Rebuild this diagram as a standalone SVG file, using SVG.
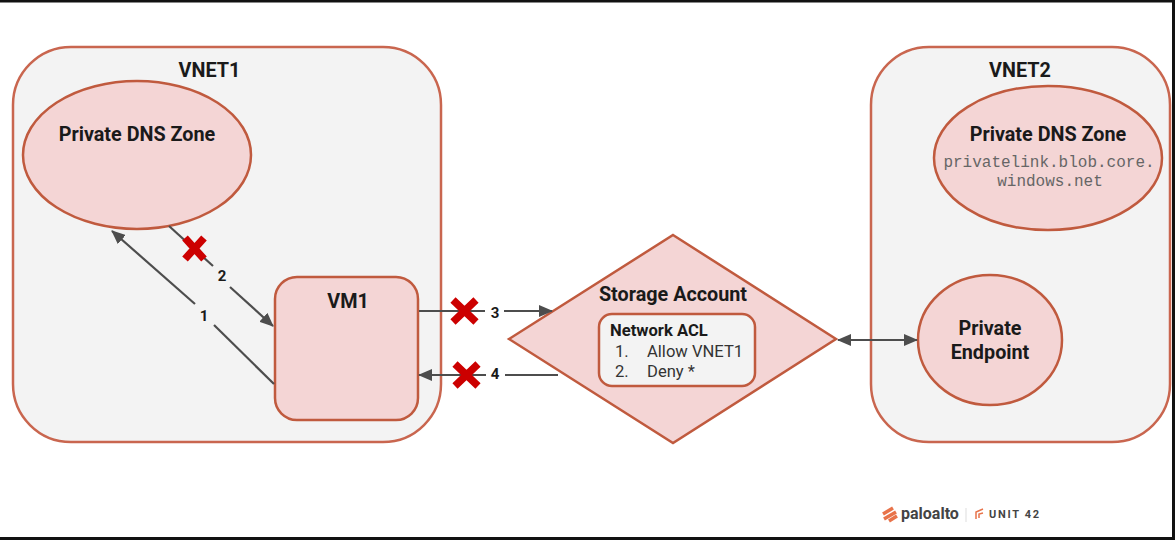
<svg xmlns="http://www.w3.org/2000/svg" width="1175" height="540" viewBox="0 0 1175 540">
<style>
.vnet{fill:#f3f3f3;stroke:#c9664f;stroke-width:2.5}
.node{fill:#f4d5d5;stroke:#c05a3e;stroke-width:2.5}
.inner{fill:#f3f3f3;stroke:#c05a3e;stroke-width:2.5}
.conn{fill:none;stroke:#4d4d4d;stroke-width:2.2}
.x{fill:none;stroke:#cc0000;stroke-width:7.5}
text{font-family:Roboto,"Liberation Sans",sans-serif;fill:#1a1a1a}
.b{font-weight:700;font-size:19.800px;text-anchor:middle}
.n{font-weight:700;font-size:15px;text-anchor:middle}
.m{font-family:"Liberation Mono",monospace;font-size:16px;fill:#666;text-anchor:middle}
.r{font-size:16.600px;fill:#333}
</style>
<defs>
<marker id="a" markerUnits="userSpaceOnUse" markerWidth="14" markerHeight="12" refX="13" refY="6" orient="auto-start-reverse"><path d="M0 0L14 6L0 12z" fill="#4d4d4d"/></marker>
</defs>
<rect width="1175" height="540" fill="#fff"/>
<path d="M0 1H1175M0 538.500H1175" stroke="#111" stroke-width="3"/>
<path d="M1173.500 0V540" stroke="#111" stroke-width="3"/>
<g id="vnet1"><rect class="vnet" x="13" y="47" width="428" height="395" rx="58"/><text class="b" x="209.500" y="77">VNET1</text></g>
<g id="vnet2"><rect class="vnet" x="871" y="47" width="299" height="395" rx="58"/><text class="b" x="1020" y="77">VNET2</text></g>
<g id="dns1"><ellipse class="node" cx="137" cy="155" rx="114" ry="74"/><text class="b" x="137" y="141">Private DNS Zone</text></g>
<g id="dns2"><ellipse class="node" cx="1048" cy="158" rx="114" ry="72"/><text class="b" x="1048" y="141">Private DNS Zone</text><text class="m" x="1049" y="167">privatelink.blob.core.</text><text class="m" x="1050" y="186">windows.net</text></g>
<g id="vm1"><rect class="node" x="275" y="277" width="143" height="143" rx="22"/><text class="b" x="348" y="308">VM1</text></g>
<g id="storage"><path class="node" d="M673 235L836 339L673 443L509 339z"/><text class="b" x="673" y="301">Storage Account</text><rect class="inner" x="599" y="314" width="156" height="72" rx="13"/><text class="r" x="610" y="336" style="font-weight:700;fill:#1a1a1a">Network ACL</text><text class="r" x="615" y="357">1.</text><text class="r" x="647" y="357">Allow VNET1</text><text class="r" x="615" y="377">2.</text><text class="r" x="647" y="377">Deny *</text></g>
<g id="endpoint"><ellipse class="node" cx="990" cy="340" rx="72" ry="65"/><text class="b" x="990" y="335">Private</text><text class="b" x="990" y="359">Endpoint</text></g>
<g id="connectors">
<path class="conn" d="M274 384L214 325"/><path class="conn" d="M195 304L112 231" marker-end="url(#a)"/>
<path class="conn" d="M169 226L213 266"/><path class="conn" d="M230 287L273 326" marker-end="url(#a)"/>
<path class="conn" d="M419 311H485"/><path class="conn" d="M504 311H552" marker-end="url(#a)"/>
<path class="conn" d="M558 375H505"/><path class="conn" d="M486 375H419" marker-end="url(#a)"/>
<path class="conn" d="M838 340H917" marker-start="url(#a)" marker-end="url(#a)"/>
<text class="n" x="204" y="321">1</text><text class="n" x="222" y="281">2</text><text class="n" x="495" y="318">3</text><text class="n" x="495" y="379">4</text>
<path class="x" d="M185 238L204 259M204 238L185 259"/>
<path class="x" d="M453 300L476 322M476 300L453 322"/>
<path class="x" d="M455 364L478 386M478 364L455 386"/>
</g>
<g id="logo"><path d="M883 514L893 508M884 519L896 512M889 521L897 516" stroke="#e8734a" stroke-width="3.500" fill="none"/><text x="901" y="519" style="font-size:16px;font-weight:700;fill:#444">paloalto</text><path d="M966 508V522" stroke="#ddd"/><path d="M976 519V512L983 509M979 518V514L983 513" stroke="#e8734a" stroke-width="1.500" fill="none"/><text x="989" y="518" style="font-size:11px;font-weight:700;letter-spacing:1.700px;fill:#444">UNIT 42</text></g>
</svg>
